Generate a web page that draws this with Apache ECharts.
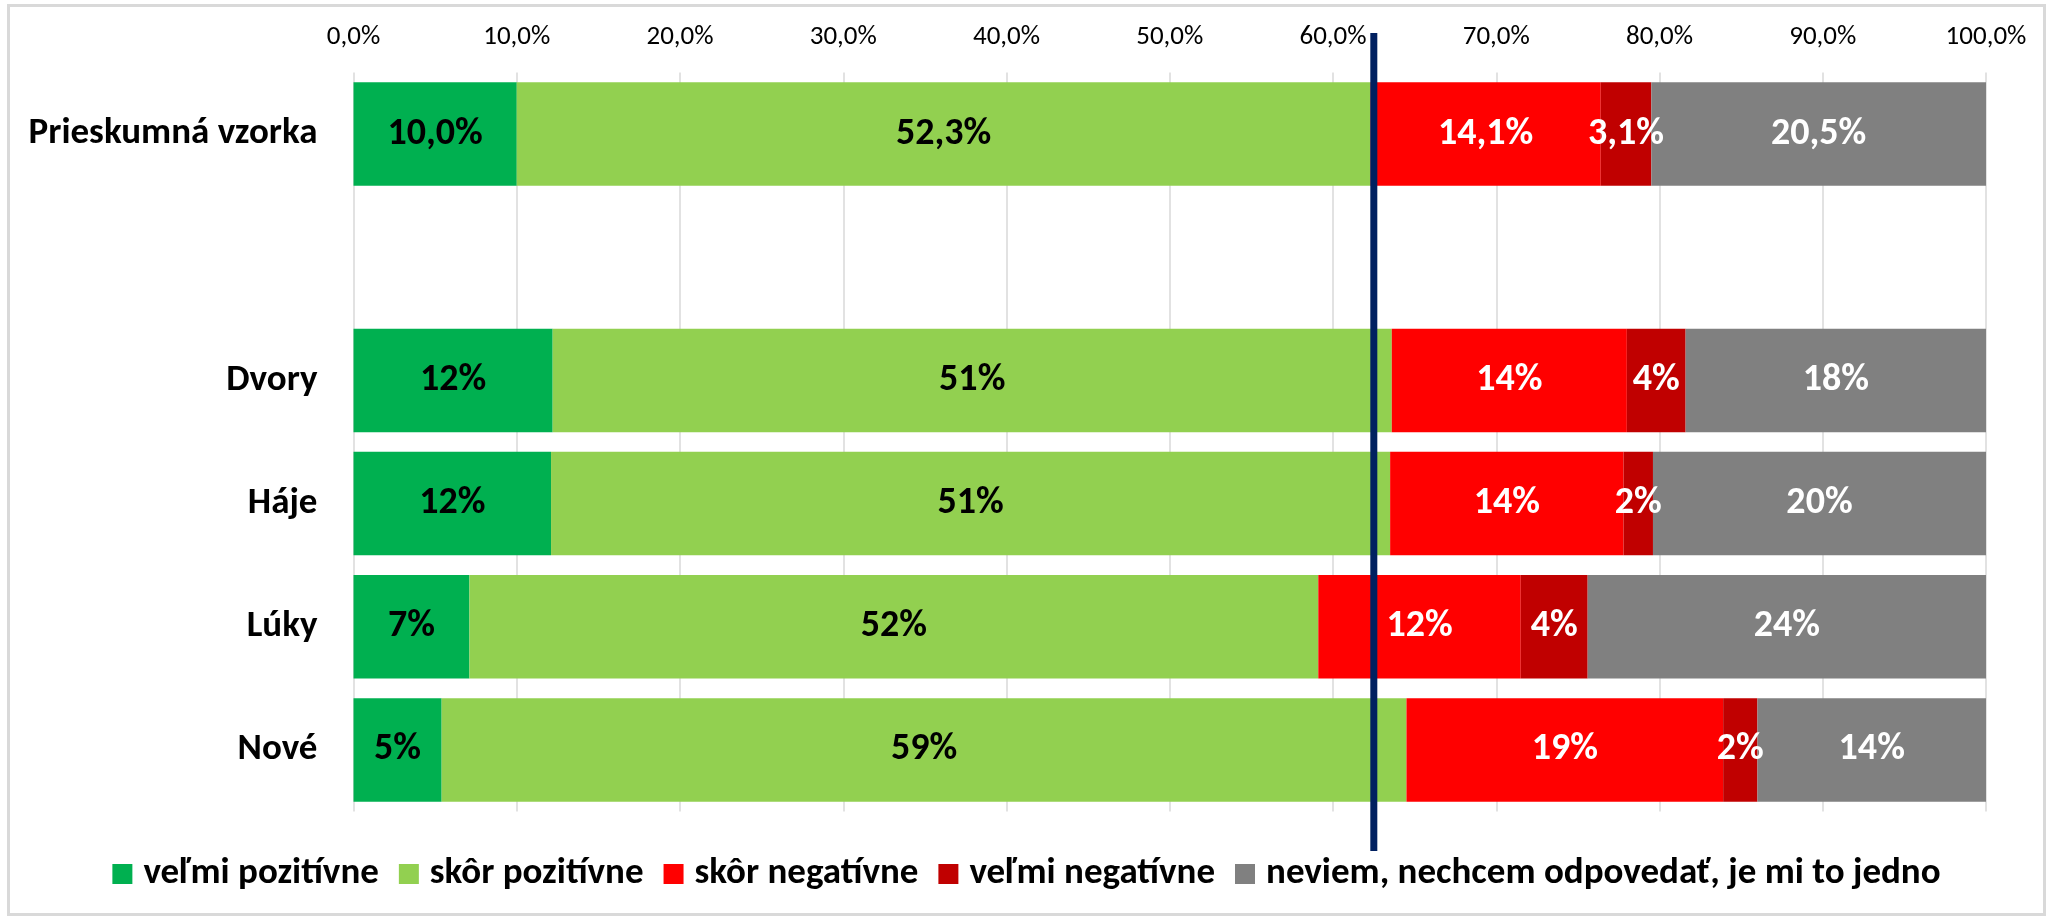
<!DOCTYPE html>
<html>
<head>
<meta charset="utf-8">
<title>Hodnotenie zmien</title>
<script src="https://cdn.jsdelivr.net/npm/echarts@6/dist/echarts.min.js"></script>
<style>
  html, body { margin: 0; padding: 0; background: #fff; }
  #chart { width: 2053px; height: 921px; }
</style>
</head>
<body>
<div id="chart"></div>
<script>
// kategórie zhora nadol, prázdny riadok oddeľuje celú vzorku od lokalít
const categories = ['Prieskumná vzorka', '', 'Dvory', 'Háje', 'Lúky', 'Nové']
const seriesNames = [
  'veľmi pozitívne',
  'skôr pozitívne',
  'skôr negatívne',
  'veľmi negatívne',
  'neviem, nechcem odpovedať, je mi to jedno'
]
const velmiPozitivne = [10.0, null, 12.2, 12.1, 7.1, 5.4]
const skorPozitivne = [52.3, null, 51.4, 51.4, 52.0, 59.1]
const skorNegativne = [14.1, null, 14.4, 14.3, 12.4, 19.4]
const velmiNegativne = [3.1, null, 3.6, 1.8, 4.1, 2.1]
const neviem = [20.5, null, 18.4, 20.4, 24.4, 14.0]
const xTicks = [0, 10, 20, 30, 40, 50, 60, 70, 80, 90, 100]
const refLine = 62.5

const colors = ['#00B050', '#92D050', '#FF0000', '#C00000', '#808080']
const labelColors = ['#000', '#000', '#fff', '#fff', '#fff']
const font = 'Carlito, Calibri, Lato, sans-serif'

function pct(v, digits) {
  return v.toFixed(digits).replace('.', ',') + '%'
}

const chart = echarts.init(document.getElementById('chart'))

const seriesData = [velmiPozitivne, skorPozitivne, skorNegativne, velmiNegativne, neviem]

chart.setOption({
  animation: false,
  textStyle: { fontFamily: font },
  grid: {
    left: 353.5,
    right: 67,
    top: 72.5,
    bottom: 109.5
  },
  legend: {
    top: 848,
    left: 'center',
    icon: 'rect',
    itemWidth: 20,
    itemHeight: 20,
    itemGap: 20,
    textStyle: {
      fontFamily: font,
      fontSize: 37,
      fontWeight: 'bold',
      lineHeight: 42,
      color: '#000',
      padding: [0, 0, 0, 6]
    },
    data: seriesNames
  },
  xAxis: {
    type: 'value',
    position: 'top',
    min: xTicks[0],
    max: xTicks[xTicks.length - 1],
    interval: xTicks[1] - xTicks[0],
    axisLine: { show: false },
    axisTick: { show: false },
    axisLabel: {
      margin: 22,
      fontSize: 27,
      color: '#000',
      fontFamily: font,
      formatter: (v) => pct(v, 1)
    },
    splitLine: { lineStyle: { color: '#d9d9d9', width: 1.5 } }
  },
  yAxis: {
    type: 'category',
    inverse: true,
    data: categories,
    axisLine: { show: false },
    axisTick: { show: false },
    axisLabel: {
      margin: 36,
      fontSize: 37,
      fontWeight: 'bold',
      color: '#000',
      fontFamily: font
    }
  },
  series: seriesNames.map((name, i) => ({
    name: name,
    type: 'bar',
    stack: 'total',
    barWidth: '84%',
    data: seriesData[i],
    itemStyle: { color: colors[i] },
    label: {
      show: true,
      position: 'inside',
      fontSize: 38,
      fontWeight: 'bold',
      fontFamily: font,
      color: labelColors[i],
      formatter: (p) => (p.dataIndex === 0 ? pct(p.value, 1) : pct(Math.round(p.value), 0))
    }
  }))
})

// zvislá čiara na hranici pozitívnych odpovedí celej vzorky + rám grafu
const lineX = chart.convertToPixel({ xAxisIndex: 0 }, refLine)
chart.setOption({
  graphic: [
    {
      type: 'rect',
      shape: { x: 8.5, y: 5.5, width: 2036, height: 909 },
      style: { fill: 'none', stroke: '#d9d9d9', lineWidth: 3 },
      silent: true,
      z: 0
    },
    {
      type: 'line',
      shape: { x1: lineX, y1: 33, x2: lineX, y2: 851 },
      style: { stroke: '#002060', lineWidth: 7 },
      silent: true,
      z: 100
    }
  ]
})
</script>
</body>
</html>
